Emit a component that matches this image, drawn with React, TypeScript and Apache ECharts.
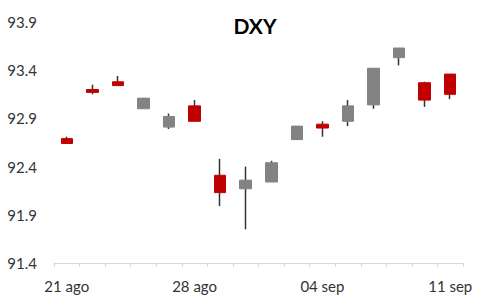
import React, { useEffect, useRef } from "react";
import * as echarts from "echarts";

const dates = ["21 ago", "24 ago", "25 ago", "26 ago", "27 ago", "28 ago", "31 ago", "01 sep", "02 sep", "03 sep", "04 sep", "07 sep", "08 sep", "09 sep", "10 sep", "11 sep"];
const openV = [92.69, 93.2, 93.28, 93.0, 92.81, 93.03, 92.31, 92.17, 92.24, 92.68, 92.84, 92.87, 93.04, 93.53, 93.27, 93.36];
const closeV = [92.64, 93.17, 93.24, 93.11, 92.92, 92.87, 92.13, 92.26, 92.44, 92.82, 92.8, 93.03, 93.42, 93.63, 93.09, 93.15];
const lowV = [92.64, 93.15, 93.24, 93.0, 92.79, 92.87, 91.99, 91.75, 92.24, 92.68, 92.71, 92.82, 93.0, 93.45, 93.02, 93.1];
const highV = [92.71, 93.25, 93.34, 93.11, 92.95, 93.09, 92.48, 92.4, 92.46, 92.82, 92.87, 93.09, 93.42, 93.63, 93.28, 93.36];
const yMin = 91.4;
const yMax = 93.9;
const yLabelStep = 0.5;

const UP = "#838383";
const DOWN = "#C00000";
const WICK = "#333333";
const FONT = "Lato, 'Open Sans', sans-serif";

export default function App() {
  const ref = useRef<HTMLDivElement>(null);
  useEffect(() => {
    if (!ref.current) return;
    const chart = echarts.init(ref.current, undefined, { renderer: "svg" });
    const wickData = dates.map((_, i) => [openV[i], closeV[i], lowV[i], highV[i]]);
    const bodyData = dates.map((_, i) => [
      openV[i],
      closeV[i],
      Math.min(openV[i], closeV[i]),
      Math.max(openV[i], closeV[i]),
    ]);
    chart.setOption({
      animation: false,
      backgroundColor: "#ffffff",
      title: {
        text: "DXY",
        left: 250,
        top: 10,
        textAlign: "center",
        textStyle: { fontFamily: FONT, fontSize: 21, fontWeight: "bold", color: "#000" },
      },
      grid: { left: 54, right: 24, top: 22, bottom: 42, containLabel: false },
      xAxis: {
        type: "category",
        data: dates,
        boundaryGap: true,
        axisLine: { show: true, lineStyle: { color: "#d9d9d9", width: 1 } },
        axisTick: { show: true, interval: 0, length: 4, lineStyle: { color: "#d9d9d9" } },
        axisLabel: {
          interval: 4,
          margin: 15,
          fontFamily: FONT,
          fontSize: 15,
          color: "#333333",
        },
        splitLine: { show: false },
      },
      yAxis: {
        type: "value",
        min: yMin,
        max: yMax,
        interval: 0.1,
        axisLine: { show: false },
        axisTick: { show: false },
        splitLine: { show: false },
        axisLabel: {
          margin: 17,
          fontFamily: FONT,
          fontSize: 15,
          color: "#333333",
          formatter: (v: number) => {
            const k = Math.round((v - yMin) * 10);
            return k % Math.round(yLabelStep * 10) === 0 ? v.toFixed(1) : "";
          },
        },
      },
      series: [
        {
          type: "candlestick",
          name: "wick",
          data: wickData,
          barWidth: 1,
          z: 1,
          itemStyle: {
            color: WICK,
            color0: WICK,
            borderColor: WICK,
            borderColor0: WICK,
            borderWidth: 1.5,
          },
        },
        {
          type: "candlestick",
          name: "body",
          data: bodyData,
          barWidth: 12,
          z: 2,
          itemStyle: {
            color: UP,
            color0: DOWN,
            borderColor: UP,
            borderColor0: DOWN,
            borderWidth: 1,
          },
        },
      ],
    });
    return () => chart.dispose();
  }, []);
  return (
    <div
      ref={ref}
      style={{ position: "fixed", left: 0, top: 0, width: 487, height: 305 }}
    />
  );
}
